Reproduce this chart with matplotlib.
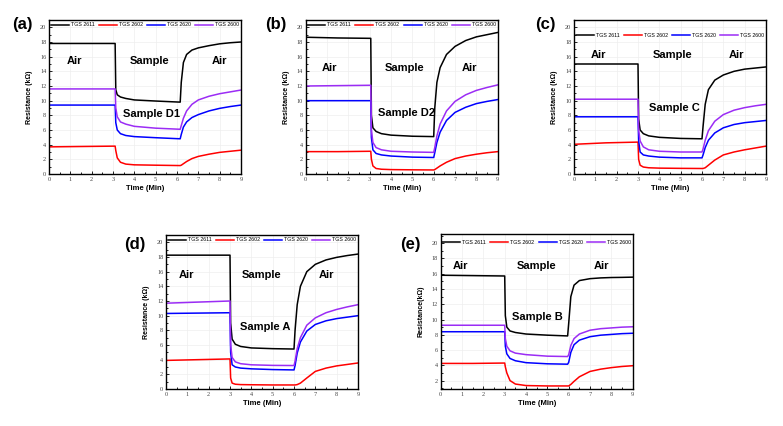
import matplotlib
matplotlib.use('Agg')
import matplotlib.pyplot as plt
from matplotlib.ticker import MultipleLocator

# sensor names / colours
sensors = ['TGS 2611', 'TGS 2602', 'TGS 2620', 'TGS 2600']
colors = ['black', '#ff0000', '#0000ff', '#9b2cf5']

# panel (a) - Sample D1
t_a = [0, 1.5, 3.1, 3.13, 3.2, 3.35, 3.6, 4.0, 5.0, 6.15, 6.2, 6.3, 6.45, 6.7, 7.0, 7.5, 8.0, 8.5, 9.0]
a_2611 = [17.8, 17.8, 17.8, 11.5, 10.8, 10.5, 10.3, 10.1, 9.95, 9.8, 12.5, 15.2, 16.3, 16.9, 17.2, 17.5, 17.75, 17.9, 18.0]
a_2602 = [3.7, 3.75, 3.8, 3.2, 2.2, 1.6, 1.35, 1.25, 1.2, 1.15, 1.2, 1.4, 1.7, 2.1, 2.4, 2.7, 2.95, 3.1, 3.25]
a_2620 = [9.4, 9.4, 9.4, 7.0, 6.0, 5.5, 5.25, 5.1, 4.95, 4.8, 5.4, 6.4, 7.1, 7.7, 8.1, 8.6, 8.95, 9.2, 9.4]
a_2600 = [11.6, 11.6, 11.6, 9.0, 7.8, 7.1, 6.8, 6.5, 6.25, 6.1, 6.6, 7.6, 8.6, 9.5, 10.1, 10.6, 10.95, 11.2, 11.45]

# panel (b) - Sample D2
t_b = [0, 1.5, 3.05, 3.08, 3.15, 3.3, 3.55, 4.0, 5.0, 6.0, 6.05, 6.15, 6.3, 6.6, 7.0, 7.5, 8.0, 8.5, 9.0]
b_2611 = [18.65, 18.55, 18.5, 8.0, 6.3, 5.8, 5.5, 5.3, 5.15, 5.1, 9.0, 12.5, 14.5, 16.3, 17.4, 18.2, 18.7, 19.0, 19.3]
b_2602 = [3.05, 3.05, 3.1, 2.0, 1.1, 0.75, 0.65, 0.6, 0.57, 0.55, 0.6, 0.8, 1.1, 1.6, 2.1, 2.45, 2.7, 2.9, 3.05]
b_2620 = [10.0, 10.0, 10.0, 5.0, 3.3, 2.8, 2.6, 2.45, 2.3, 2.25, 2.9, 4.3, 5.7, 7.3, 8.4, 9.1, 9.6, 9.9, 10.15]
b_2600 = [12.0, 12.05, 12.1, 6.0, 4.3, 3.6, 3.3, 3.1, 3.0, 2.95, 3.6, 5.2, 6.8, 8.6, 9.9, 10.8, 11.4, 11.8, 12.15]

# panel (c) - Sample C
t_c = [0, 1.5, 3.0, 3.03, 3.1, 3.25, 3.5, 4.0, 5.0, 6.0, 6.05, 6.15, 6.3, 6.6, 7.0, 7.5, 8.0, 8.5, 9.0]
c_2611 = [15.0, 15.0, 15.0, 7.5, 6.0, 5.5, 5.2, 5.0, 4.85, 4.8, 6.5, 9.5, 11.5, 12.8, 13.5, 14.0, 14.3, 14.45, 14.6]
c_2602 = [4.05, 4.25, 4.35, 2.0, 1.2, 0.95, 0.85, 0.8, 0.77, 0.75, 0.75, 0.85, 1.2, 1.9, 2.6, 3.0, 3.3, 3.55, 3.8]
c_2620 = [7.8, 7.8, 7.8, 4.5, 3.0, 2.6, 2.45, 2.3, 2.2, 2.2, 2.6, 3.6, 4.6, 5.6, 6.3, 6.75, 7.0, 7.15, 7.3]
c_2600 = [10.2, 10.2, 10.2, 6.0, 4.5, 3.7, 3.3, 3.1, 3.0, 3.0, 3.4, 4.6, 5.9, 7.2, 8.1, 8.7, 9.05, 9.3, 9.5]

# panel (d) - Sample A
t_d = [0, 1.5, 3.0, 3.03, 3.1, 3.25, 3.5, 4.0, 5.0, 6.0, 6.05, 6.15, 6.3, 6.6, 7.0, 7.5, 8.0, 8.5, 9.0]
d_2611 = [18.25, 18.25, 18.25, 9.0, 6.8, 6.1, 5.8, 5.6, 5.5, 5.45, 8.0, 11.5, 14.0, 16.0, 17.0, 17.6, 17.95, 18.2, 18.4]
d_2602 = [3.9, 4.0, 4.1, 1.5, 0.8, 0.65, 0.6, 0.58, 0.55, 0.55, 0.55, 0.6, 0.8, 1.5, 2.4, 2.85, 3.15, 3.35, 3.55]
d_2620 = [10.3, 10.35, 10.4, 5.0, 3.3, 3.0, 2.85, 2.75, 2.65, 2.6, 3.2, 4.9, 6.4, 7.9, 8.8, 9.3, 9.6, 9.8, 10.0]
d_2600 = [11.7, 11.85, 12.0, 6.0, 4.3, 3.7, 3.45, 3.3, 3.22, 3.2, 3.8, 5.5, 7.0, 8.7, 9.7, 10.4, 10.85, 11.2, 11.5]

# panel (e) - Sample B
t_e = [0, 1.5, 3.0, 3.03, 3.1, 3.25, 3.5, 4.0, 5.0, 5.95, 6.0, 6.1, 6.25, 6.5, 7.0, 7.5, 8.0, 8.5, 9.0]
e_2611 = [15.8, 15.75, 15.7, 10.5, 9.0, 8.5, 8.3, 8.1, 7.95, 7.85, 9.5, 13.0, 14.5, 15.1, 15.35, 15.45, 15.5, 15.52, 15.55]
e_2602 = [4.25, 4.25, 4.3, 3.8, 3.0, 2.0, 1.55, 1.35, 1.3, 1.3, 1.3, 1.5, 1.9, 2.5, 3.2, 3.5, 3.7, 3.85, 3.95]
e_2620 = [8.4, 8.4, 8.4, 6.5, 5.5, 4.9, 4.6, 4.35, 4.2, 4.15, 4.4, 5.7, 6.7, 7.3, 7.75, 7.95, 8.05, 8.15, 8.2]
e_2600 = [9.25, 9.25, 9.25, 7.5, 6.5, 5.9, 5.6, 5.4, 5.2, 5.15, 5.4, 6.6, 7.5, 8.1, 8.6, 8.8, 8.9, 9.0, 9.05]

sans = 'Liberation Sans'
serif = 'Liberation Serif'

fig = plt.figure(figsize=(7.83, 4.26), dpi=100)


def panel(rect, t, series, ylim, ylabel, leg_y, texts, tag, tag_xy):
    ax = fig.add_axes(rect)
    for vals, name, c in zip(series, sensors, colors):
        ax.plot(t, vals, color=c, lw=1.1, label=name)
    ax.set_xlim(0, 9)
    ax.set_ylim(*ylim)
    ax.xaxis.set_major_locator(MultipleLocator(1))
    ax.xaxis.set_minor_locator(MultipleLocator(0.5))
    ax.yaxis.set_major_locator(MultipleLocator(2))
    ax.yaxis.set_minor_locator(MultipleLocator(1))
    ax.tick_params(which='both', direction='in', labelsize=4.5, labelcolor='#444444',
                   width=0.6, pad=2)
    ax.tick_params(which='major', length=2.5)
    ax.tick_params(which='minor', length=1.5)
    for lab in ax.get_xticklabels() + ax.get_yticklabels():
        lab.set_fontfamily(serif)
    ax.grid(True, color='#eeeeee', lw=0.5)
    ax.set_axisbelow(True)
    for s in ax.spines.values():
        s.set_linewidth(1.0)
    ax.set_xlabel('Time (Min)', fontsize=5.5, fontweight='bold', family=sans, labelpad=2)
    ax.set_ylabel(ylabel, fontsize=5, fontweight='bold', family=sans, labelpad=5)
    ax.legend(loc='center', bbox_to_anchor=(0.5, leg_y), ncol=4, frameon=False,
              prop={'family': sans, 'size': 3.8}, handlelength=3.4,
              handletextpad=0.4, columnspacing=0.8, borderpad=0)
    for (x, y, s) in texts:
        ax.text(x, y, s, fontsize=8, fontweight='bold', family=sans,
                ha='center', va='center')
    fig.text(tag_xy[0] / 783, 1 - tag_xy[1] / 426, tag, fontsize=12,
             fontweight='bold', family=sans, ha='center', va='center')
    return ax


w = 192 / 783
h = 154 / 426
top_b = 1 - 174 / 426
bot_b = 1 - 389 / 426

panel([49 / 783, top_b, w, h], t_a, [a_2611, a_2602, a_2620, a_2600], (0, 21),
      'Resistance (kΩ)', 0.968,
      [(1.2, 15.4, 'Air'), (4.73, 15.4, 'Sample'), (8.0, 15.4, 'Air'), (4.8, 8.2, 'Sample D1')],
      '(a)', (22, 25))
panel([305.7 / 783, top_b, w, h], t_b, [b_2611, b_2602, b_2620, b_2600], (0, 21),
      'Resistance (kΩ)', 0.968,
      [(1.1, 14.45, 'Air'), (4.64, 14.45, 'Sample'), (7.67, 14.45, 'Air'), (4.75, 8.3, 'Sample D2')],
      '(b)', (276, 25))
panel([574 / 783, top_b, w, h], t_c, [c_2611, c_2602, c_2620, c_2600], (0, 21),
      'Resistance (kΩ)', 0.898,
      [(1.14, 16.2, 'Air'), (4.6, 16.2, 'Sample'), (7.63, 16.2, 'Air'), (4.72, 9.0, 'Sample C')],
      '(c)', (545, 25))
panel([166 / 783, bot_b, w, h], t_d, [d_2611, d_2602, d_2620, d_2600], (0, 21),
      'Resistance (kΩ)', 0.968,
      [(0.98, 15.6, 'Air'), (4.49, 15.6, 'Sample'), (7.53, 15.6, 'Air'), (4.63, 8.45, 'Sample A')],
      '(d)', (135, 245))
panel([440.7 / 783, bot_b, w, 155 / 426], t_e, [e_2611, e_2602, e_2620, e_2600], (0.9, 21.2),
      'Resistance(kΩ)', 0.948,
      [(0.93, 17.07, 'Air'), (4.47, 17.07, 'Sample'), (7.52, 17.07, 'Air'), (4.52, 10.3, 'Sample B')],
      '(e)', (410, 245))

fig.savefig('out.png', dpi=100)
